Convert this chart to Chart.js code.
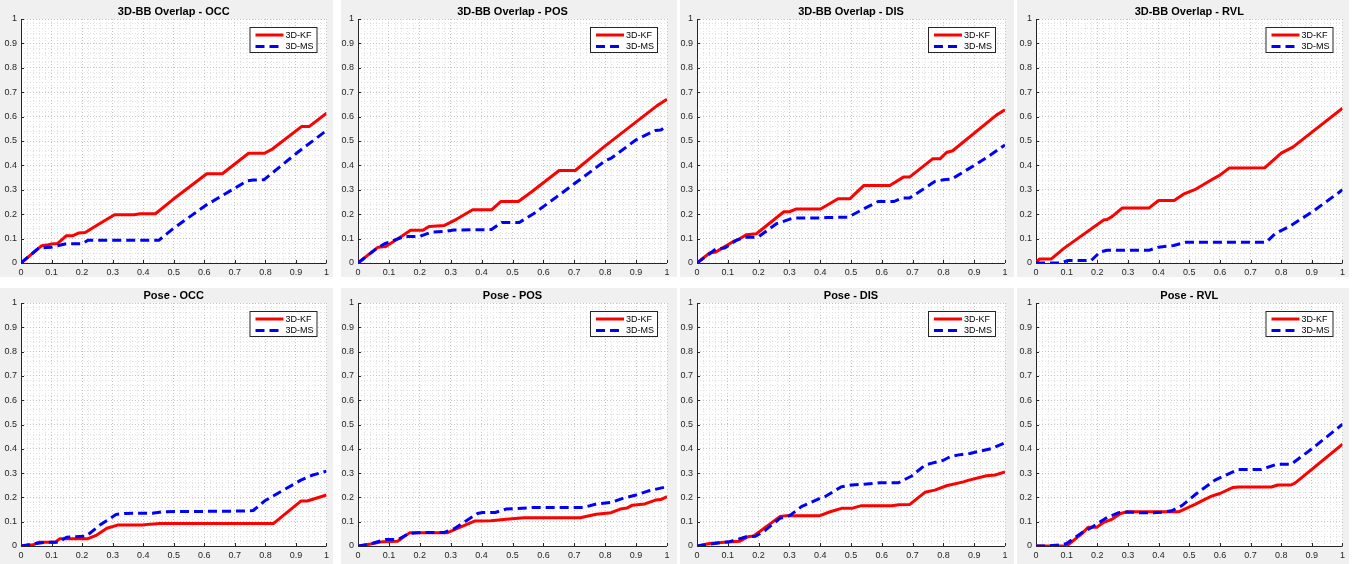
<!DOCTYPE html>
<html>
<head>
<meta charset="utf-8">
<script src="https://cdn.jsdelivr.net/npm/chart.js@4.4.0/dist/chart.umd.min.js"></script>
<style>
  body { margin: 0; background: #fff; width: 1354px; height: 564px; position: relative; overflow: hidden; }
  .panel { position: absolute; background: #f0f0f0; }
  .panel canvas { display: block; }
</style>
</head>
<body>
<script>
// ---- data ----
const seriesNames = ["3D-KF", "3D-MS"];
const titles = ["3D-BB Overlap - OCC", "3D-BB Overlap - POS", "3D-BB Overlap - DIS", "3D-BB Overlap - RVL",
                "Pose - OCC", "Pose - POS", "Pose - DIS", "Pose - RVL"];
const axisTicks = [0, 0.1, 0.2, 0.3, 0.4, 0.5, 0.6, 0.7, 0.8, 0.9, 1];

const bbOccKfX = [0, 0.068, 0.09, 0.1, 0.12, 0.149, 0.17, 0.19, 0.21, 0.246, 0.306, 0.37, 0.39, 0.44, 0.495, 0.608, 0.659, 0.745, 0.797, 0.824, 0.918, 0.943, 1];
const bbOccKfY = [0, 0.071, 0.075, 0.078, 0.08, 0.112, 0.112, 0.123, 0.125, 0.153, 0.198, 0.198, 0.202, 0.202, 0.258, 0.366, 0.366, 0.45, 0.45, 0.468, 0.559, 0.559, 0.614];
const bbOccMsX = [0, 0.058, 0.1, 0.149, 0.2, 0.219, 0.3, 0.451, 0.495, 0.603, 0.741, 0.76, 0.795, 0.905, 1];
const bbOccMsY = [0, 0.061, 0.065, 0.079, 0.079, 0.093, 0.093, 0.093, 0.138, 0.235, 0.337, 0.34, 0.341, 0.453, 0.543];

const bbPosKfX = [0, 0.065, 0.09, 0.14, 0.17, 0.21, 0.23, 0.28, 0.32, 0.371, 0.432, 0.462, 0.519, 0.56, 0.651, 0.703, 0.8, 0.968, 1];
const bbPosKfY = [0, 0.065, 0.068, 0.109, 0.134, 0.134, 0.15, 0.154, 0.18, 0.218, 0.218, 0.252, 0.252, 0.29, 0.379, 0.379, 0.48, 0.645, 0.671];
const bbPosMsX = [0, 0.062, 0.086, 0.12, 0.151, 0.2, 0.238, 0.286, 0.31, 0.432, 0.465, 0.522, 0.568, 0.659, 0.8, 0.82, 0.9, 0.962, 0.98, 1];
const bbPosMsY = [0, 0.061, 0.079, 0.095, 0.109, 0.109, 0.127, 0.13, 0.135, 0.137, 0.166, 0.166, 0.202, 0.286, 0.419, 0.43, 0.505, 0.543, 0.545, 0.562];

const bbDisKfX = [0, 0.041, 0.061, 0.082, 0.122, 0.14, 0.16, 0.193, 0.282, 0.3, 0.321, 0.401, 0.458, 0.496, 0.542, 0.626, 0.67, 0.69, 0.765, 0.789, 0.81, 0.83, 0.973, 1];
const bbDisKfY = [0, 0.041, 0.045, 0.061, 0.091, 0.1, 0.116, 0.12, 0.21, 0.21, 0.221, 0.221, 0.263, 0.263, 0.318, 0.318, 0.352, 0.352, 0.427, 0.427, 0.453, 0.46, 0.607, 0.628];
const bbDisMsX = [0, 0.061, 0.09, 0.128, 0.155, 0.19, 0.2, 0.258, 0.312, 0.399, 0.42, 0.491, 0.54, 0.588, 0.64, 0.664, 0.69, 0.772, 0.8, 0.827, 0.9, 0.946, 1];
const bbDisMsY = [0, 0.057, 0.061, 0.093, 0.106, 0.106, 0.108, 0.161, 0.184, 0.184, 0.186, 0.188, 0.221, 0.252, 0.252, 0.266, 0.266, 0.334, 0.341, 0.344, 0.4, 0.437, 0.484];

const bbRvlKfX = [0, 0.011, 0.049, 0.092, 0.222, 0.232, 0.249, 0.281, 0.368, 0.4, 0.451, 0.481, 0.522, 0.573, 0.6, 0.63, 0.746, 0.8, 0.838, 1];
const bbRvlKfY = [0, 0.016, 0.016, 0.061, 0.177, 0.178, 0.191, 0.225, 0.225, 0.256, 0.256, 0.282, 0.303, 0.341, 0.36, 0.389, 0.39, 0.45, 0.475, 0.634];
const bbRvlMsX = [0, 0.08, 0.103, 0.18, 0.209, 0.232, 0.368, 0.4, 0.449, 0.49, 0.751, 0.78, 0.827, 0.903, 1];
const bbRvlMsY = [0, 0, 0.01, 0.01, 0.045, 0.052, 0.052, 0.065, 0.072, 0.085, 0.085, 0.12, 0.15, 0.211, 0.3];

const poseOccKfX = [0, 0.04, 0.057, 0.111, 0.127, 0.219, 0.248, 0.281, 0.316, 0.397, 0.424, 0.454, 0.827, 0.916, 0.937, 1];
const poseOccKfY = [0, 0.005, 0.015, 0.015, 0.03, 0.03, 0.045, 0.073, 0.086, 0.086, 0.09, 0.093, 0.093, 0.185, 0.185, 0.21];
const poseOccMsX = [0, 0.05, 0.08, 0.122, 0.149, 0.214, 0.257, 0.311, 0.343, 0.43, 0.462, 0.732, 0.76, 0.797, 0.916, 0.95, 1];
const poseOccMsY = [0, 0.01, 0.015, 0.015, 0.036, 0.041, 0.085, 0.13, 0.134, 0.135, 0.141, 0.144, 0.146, 0.185, 0.271, 0.29, 0.308];

const posePosKfX = [0, 0.041, 0.081, 0.128, 0.168, 0.29, 0.333, 0.379, 0.43, 0.48, 0.538, 0.719, 0.771, 0.819, 0.849, 0.87, 0.888, 0.928, 0.963, 0.98, 1];
const posePosKfY = [0, 0.008, 0.018, 0.02, 0.055, 0.055, 0.079, 0.103, 0.104, 0.11, 0.116, 0.116, 0.131, 0.137, 0.152, 0.156, 0.168, 0.173, 0.189, 0.191, 0.203];
const posePosMsX = [0, 0.03, 0.09, 0.13, 0.165, 0.214, 0.279, 0.31, 0.387, 0.403, 0.444, 0.479, 0.563, 0.728, 0.771, 0.82, 0.857, 0.9, 0.938, 1];
const posePosMsY = [0, 0.005, 0.027, 0.027, 0.052, 0.056, 0.056, 0.07, 0.134, 0.138, 0.138, 0.152, 0.158, 0.158, 0.173, 0.18, 0.196, 0.21, 0.226, 0.244];

const poseDisKfX = [0, 0.04, 0.09, 0.139, 0.166, 0.184, 0.269, 0.29, 0.317, 0.399, 0.43, 0.469, 0.502, 0.534, 0.632, 0.655, 0.691, 0.74, 0.772, 0.81, 0.865, 0.88, 0.94, 0.968, 1];
const poseDisKfY = [0, 0.01, 0.015, 0.02, 0.038, 0.041, 0.121, 0.125, 0.125, 0.125, 0.14, 0.155, 0.155, 0.166, 0.166, 0.17, 0.171, 0.221, 0.23, 0.248, 0.264, 0.27, 0.289, 0.292, 0.305];
const poseDisMsX = [0, 0.079, 0.106, 0.16, 0.19, 0.22, 0.269, 0.301, 0.339, 0.399, 0.415, 0.469, 0.502, 0.55, 0.594, 0.653, 0.697, 0.74, 0.76, 0.8, 0.821, 0.85, 0.886, 0.957, 1];
const poseDisMsY = [0, 0.014, 0.018, 0.038, 0.04, 0.063, 0.114, 0.125, 0.162, 0.196, 0.203, 0.244, 0.251, 0.255, 0.26, 0.26, 0.288, 0.333, 0.34, 0.353, 0.367, 0.375, 0.381, 0.401, 0.425];

const poseRvlKfX = [0, 0.1, 0.151, 0.17, 0.198, 0.219, 0.249, 0.276, 0.297, 0.467, 0.519, 0.546, 0.573, 0.6, 0.643, 0.66, 0.768, 0.789, 0.832, 0.846, 1];
const poseRvlKfY = [0, 0, 0.052, 0.077, 0.077, 0.096, 0.111, 0.134, 0.141, 0.141, 0.171, 0.189, 0.205, 0.216, 0.241, 0.243, 0.243, 0.251, 0.251, 0.26, 0.419];
const poseRvlMsX = [0, 0.04, 0.08, 0.1, 0.151, 0.18, 0.232, 0.27, 0.3, 0.34, 0.38, 0.42, 0.443, 0.476, 0.524, 0.584, 0.659, 0.735, 0.784, 0.832, 0.897, 1];
const poseRvlMsY = [0, 0, 0.005, 0.01, 0.056, 0.075, 0.118, 0.137, 0.14, 0.137, 0.137, 0.14, 0.145, 0.166, 0.216, 0.271, 0.315, 0.315, 0.336, 0.336, 0.397, 0.501];

const curves = [
  [[bbOccKfX, bbOccKfY], [bbOccMsX, bbOccMsY]],
  [[bbPosKfX, bbPosKfY], [bbPosMsX, bbPosMsY]],
  [[bbDisKfX, bbDisKfY], [bbDisMsX, bbDisMsY]],
  [[bbRvlKfX, bbRvlKfY], [bbRvlMsX, bbRvlMsY]],
  [[poseOccKfX, poseOccKfY], [poseOccMsX, poseOccMsY]],
  [[posePosKfX, posePosKfY], [posePosMsX, posePosMsY]],
  [[poseDisKfX, poseDisKfY], [poseDisMsX, poseDisMsY]],
  [[poseRvlKfX, poseRvlKfY], [poseRvlMsX, poseRvlMsY]],
];

// ---- layout: grey panel box and where the plot area sits inside the page ----
const cols = [
  { box: [0, 333], plot: [21, 329] },
  { box: [341, 677], plot: [358, 667] },
  { box: [680, 1014], plot: [697, 1005] },
  { box: [1017, 1349], plot: [1036, 1344] },
];
const rows = [
  { box: [0, 277], plot: [19, 263] },
  { box: [288, 564], plot: [303, 546] },
];

const FONT = '"Liberation Sans", Arial, Helvetica, sans-serif';
const AXIS_COLOR = '#262626';
const colors = ['#ff0000', '#0000ff'];
const dashes = [[], [9, 5]];

const isMajor = v => Math.abs(v * 10 - Math.round(v * 10)) < 1e-6;
const fmt = v => String(Math.round(v * 10) / 10);

const panelPlugin = {
  id: 'panel',
  beforeDraw(chart, args, opts) {
    const { ctx, chartArea: a } = chart;
    ctx.save();
    ctx.fillStyle = '#ffffff';
    ctx.fillRect(a.left, a.top, a.right - a.left, a.bottom - a.top);
    ctx.restore();
  },
  beforeDatasetsDraw(chart) {
    const { ctx, chartArea: a, scales } = chart;
    ctx.save();
    ctx.strokeStyle = AXIS_COLOR;
    ctx.lineWidth = 1;
    ctx.beginPath();
    ctx.moveTo(a.left + 0.5, a.top);
    ctx.lineTo(a.left + 0.5, a.bottom + 0.5);
    ctx.lineTo(a.right, a.bottom + 0.5);
    // inward ticks
    axisTicks.forEach(t => {
      const px = Math.round(scales.x.getPixelForValue(t)) + 0.5;
      ctx.moveTo(px, a.bottom);
      ctx.lineTo(px, a.bottom - 3);
      const py = Math.round(scales.y.getPixelForValue(t)) + 0.5;
      ctx.moveTo(a.left, py);
      ctx.lineTo(a.left + 3, py);
    });
    ctx.stroke();
    ctx.restore();
  },
  afterDraw(chart, args, opts) {
    const { ctx, chartArea: a } = chart;
    ctx.save();
    // title
    ctx.fillStyle = '#000';
    ctx.font = 'bold 11px ' + FONT;
    ctx.textAlign = 'center';
    ctx.textBaseline = 'middle';
    ctx.fillText(opts.title, (a.left + a.right) / 2, a.top - 7);
    // legend box
    const w = 68, h = 26;
    const lx = a.right - 9 - w, ly = a.top + 8;
    ctx.fillStyle = '#fff';
    ctx.fillRect(lx, ly, w, h);
    ctx.strokeStyle = AXIS_COLOR;
    ctx.lineWidth = 1;
    ctx.strokeRect(lx + 0.5, ly + 0.5, w - 1, h - 1);
    ctx.font = '9px ' + FONT;
    ctx.textAlign = 'left';
    chart.data.datasets.forEach((ds, i) => {
      const y = ly + 8 + i * 11.5;
      ctx.strokeStyle = ds.borderColor;
      ctx.lineWidth = 3;
      ctx.setLineDash(ds.borderDash || []);
      ctx.beginPath();
      ctx.moveTo(lx + 6, y);
      ctx.lineTo(lx + 34, y);
      ctx.stroke();
      ctx.setLineDash([]);
      ctx.fillStyle = '#000';
      ctx.fillText(ds.label, lx + 36, y + 0.5);
    });
    ctx.restore();
  }
};

function makeAxis(fitFn) {
  return {
    type: 'linear', min: 0, max: 1,
    ticks: {
      stepSize: 0.02, autoSkip: false, maxRotation: 0, padding: 4,
      color: AXIS_COLOR, font: { family: FONT, size: 9 },
      callback: v => isMajor(v) ? fmt(v) : ''
    },
    grid: {
      drawTicks: false, lineWidth: 1,
      color: c => (c.tick && isMajor(c.tick.value)) ? '#c4c4c4' : '#e2e2e2'
    },
    border: { display: false, dash: [1, 2] },
    afterFit: fitFn
  };
}

titles.forEach((title, k) => {
  const col = cols[k % 4], row = rows[Math.floor(k / 4)];
  const bw = col.box[1] - col.box[0], bh = row.box[1] - row.box[0];
  const div = document.createElement('div');
  div.className = 'panel';
  div.style.left = col.box[0] + 'px';
  div.style.top = row.box[0] + 'px';
  div.style.width = bw + 'px';
  div.style.height = bh + 'px';
  const canvas = document.createElement('canvas');
  canvas.width = bw; canvas.height = bh;
  canvas.style.width = bw + 'px'; canvas.style.height = bh + 'px';
  div.appendChild(canvas);
  document.body.appendChild(div);

  const datasets = curves[k].map(([xs, ys], i) => ({
    label: seriesNames[i],
    data: xs.map((x, j) => ({ x, y: ys[j] })),
    borderColor: colors[i],
    borderWidth: 3,
    borderDash: dashes[i],
    borderCapStyle: 'butt',
    borderJoinStyle: 'round',
    pointRadius: 0,
    tension: 0,
    fill: false,
    order: i === 0 ? 2 : 1
  }));

  new Chart(canvas, {
    type: 'line',
    data: { datasets },
    options: {
      responsive: false,
      animation: false,
      devicePixelRatio: 1,
      parsing: true,
      layout: { padding: { top: row.plot[0] - row.box[0], right: col.box[1] - col.plot[1], left: 0, bottom: 0 } },
      plugins: {
        legend: { display: false },
        tooltip: { enabled: false },
        title: { display: false },
        panel: { title }
      },
      scales: {
        x: makeAxis(s => { s.height = row.box[1] - row.plot[1]; }),
        y: makeAxis(s => { s.width = col.plot[0] - col.box[0]; })
      }
    },
    plugins: [panelPlugin]
  });
});
</script>
</body>
</html>
